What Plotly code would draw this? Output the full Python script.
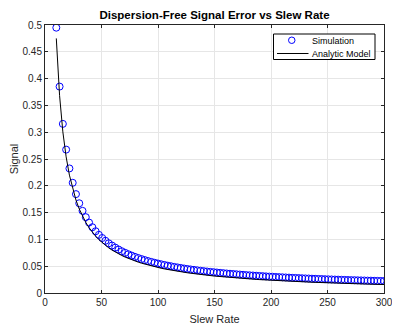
import plotly.graph_objects as go

slew_rate = [10.0, 12.9, 15.8, 18.7, 21.6, 24.5, 27.4, 30.3, 33.2, 36.1, 39.0, 41.9, 44.8, 47.7, 50.6,
             53.5, 56.4, 59.3, 62.2, 65.1, 68.0, 70.9, 73.8, 76.7, 79.6, 82.5, 85.4, 88.3, 91.2, 94.1,
             97.0, 99.9, 102.8, 105.7, 108.6, 111.5, 114.4, 117.3, 120.2, 123.1, 126.0, 128.9, 131.8,
             134.7, 137.6, 140.5, 143.4, 146.3, 149.2, 152.1, 155.0, 157.9, 160.8, 163.7, 166.6, 169.5,
             172.4, 175.3, 178.2, 181.1, 184.0, 186.9, 189.8, 192.7, 195.6, 198.5, 201.4, 204.3, 207.2,
             210.1, 213.0, 215.9, 218.8, 221.7, 224.6, 227.5, 230.4, 233.3, 236.2, 239.1, 242.0, 244.9,
             247.8, 250.7, 253.6, 256.5, 259.4, 262.3, 265.2, 268.1, 271.0, 273.9, 276.8, 279.7, 282.6,
             285.5, 288.4, 291.3, 294.2, 297.1, 300.0]

simulation = [0.4950, 0.3851, 0.3155, 0.2675, 0.2324, 0.2056, 0.1845, 0.1674, 0.1533, 0.1415,
              0.1314, 0.1227, 0.1152, 0.1085, 0.1026, 0.0974, 0.0927, 0.0885, 0.0846, 0.0811,
              0.0779, 0.0750, 0.0723, 0.0698, 0.0674, 0.0653, 0.0633, 0.0614, 0.0596, 0.0580,
              0.0564, 0.0550, 0.0536, 0.0523, 0.0510, 0.0499, 0.0487, 0.0477, 0.0467, 0.0457,
              0.0448, 0.0439, 0.0431, 0.0423, 0.0415, 0.0408, 0.0401, 0.0394, 0.0388, 0.0382,
              0.0376, 0.0370, 0.0364, 0.0359, 0.0354, 0.0349, 0.0344, 0.0339, 0.0334, 0.0330,
              0.0326, 0.0322, 0.0318, 0.0314, 0.0310, 0.0306, 0.0303, 0.0299, 0.0296, 0.0293,
              0.0290, 0.0287, 0.0283, 0.0281, 0.0278, 0.0275, 0.0272, 0.0270, 0.0267, 0.0265,
              0.0262, 0.0260, 0.0257, 0.0255, 0.0253, 0.0251, 0.0249, 0.0246, 0.0244, 0.0242,
              0.0240, 0.0239, 0.0237, 0.0235, 0.0233, 0.0231, 0.0230, 0.0228, 0.0226, 0.0225,
              0.0223]

analytic = [0.4750, 0.3682, 0.3006, 0.2540, 0.2199, 0.1939, 0.1734, 0.1568, 0.1431, 0.1316,
            0.1218, 0.1134, 0.1060, 0.0996, 0.0939, 0.0888, 0.0842, 0.0801, 0.0764, 0.0730,
            0.0699, 0.0670, 0.0644, 0.0619, 0.0597, 0.0576, 0.0556, 0.0538, 0.0521, 0.0505,
            0.0490, 0.0475, 0.0462, 0.0449, 0.0437, 0.0426, 0.0415, 0.0405, 0.0395, 0.0386,
            0.0377, 0.0369, 0.0360, 0.0353, 0.0345, 0.0338, 0.0331, 0.0325, 0.0318, 0.0312,
            0.0306, 0.0301, 0.0295, 0.0290, 0.0285, 0.0280, 0.0276, 0.0271, 0.0267, 0.0262,
            0.0258, 0.0254, 0.0250, 0.0246, 0.0243, 0.0239, 0.0236, 0.0233, 0.0229, 0.0226,
            0.0223, 0.0220, 0.0217, 0.0214, 0.0211, 0.0209, 0.0206, 0.0204, 0.0201, 0.0199,
            0.0196, 0.0194, 0.0192, 0.0189, 0.0187, 0.0185, 0.0183, 0.0181, 0.0179, 0.0177,
            0.0175, 0.0173, 0.0172, 0.0170, 0.0168, 0.0166, 0.0165, 0.0163, 0.0161, 0.0160,
            0.0158]

series_names = ["Simulation", "Analytic Model"]
x_ticks = [0, 50, 100, 150, 200, 250, 300]
y_ticks = [0, 0.05, 0.1, 0.15, 0.2, 0.25, 0.3, 0.35, 0.4, 0.45, 0.5]
y_tick_labels = ["0", "0.05", "0.1", "0.15", "0.2", "0.25", "0.3", "0.35", "0.4", "0.45", "0.5"]

FONT = "Liberation Sans, Arial, sans-serif"
AX = "#262626"
BLUE = "#0000ff"

# page body has an 8px margin, so the figure is sized to fit the 400x328 window
OFF = 8
W, H = 392, 320
ML, MT = 37, 17
PW, PH = 339, 268
MR, MB = W - ML - PW, H - MT - PH


def px(xs):
    return (xs - OFF - ML) / PW


def py(ys):
    return 1 - (ys - OFF - MT) / PH


fig = go.Figure()
fig.add_trace(go.Scatter(
    x=slew_rate, y=simulation, mode="markers", name=series_names[0], showlegend=False,
    marker=dict(symbol="circle-open", size=7, color=BLUE, line=dict(width=1, color=BLUE)),
))
fig.add_trace(go.Scatter(
    x=slew_rate, y=analytic, mode="lines", name=series_names[1], showlegend=False,
    line=dict(color="#000000", width=1),
))

axis_common = dict(
    showline=True, linecolor=AX, linewidth=1, mirror="ticks",
    ticks="inside", ticklen=3, tickcolor=AX, tickwidth=1,
    showgrid=True, gridcolor="#e6e6e6", gridwidth=1, zeroline=False,
    tickfont=dict(family=FONT, size=10, color=AX), automargin=False,
)

# compact legend box (MATLAB style)
shapes = [
    dict(type="rect", xref="paper", yref="paper", x0=px(273.5), x1=px(375), y0=py(59.5), y1=py(34),
         line=dict(color="#000000", width=1), fillcolor="white", layer="above"),
    dict(type="circle", xref="paper", yref="paper", x0=px(288.5), x1=px(295), y0=py(43.5), y1=py(37),
         line=dict(color=BLUE, width=1), fillcolor="rgba(0,0,0,0)", layer="above"),
    dict(type="line", xref="paper", yref="paper", x0=px(277), x1=px(308.5), y0=py(53.5), y1=py(53.5),
         line=dict(color="#000000", width=1), layer="above"),
]
annotations = [
    dict(text=series_names[0], xref="paper", yref="paper", x=px(310), y=py(40.5),
         xanchor="left", yanchor="middle", showarrow=False,
         font=dict(family=FONT, size=9, color="#000000")),
    dict(text=series_names[1], xref="paper", yref="paper", x=px(310), y=py(53.5),
         xanchor="left", yanchor="middle", showarrow=False,
         font=dict(family=FONT, size=9, color="#000000")),
]

fig.update_layout(
    width=W, height=H,
    margin=dict(l=ML, r=MR, t=MT, b=MB),
    paper_bgcolor="white", plot_bgcolor="white",
    font=dict(family=FONT, color=AX),
    title=dict(text="<b>Dispersion-Free Signal Error vs Slew Rate</b>",
               font=dict(family=FONT, size=11.5, color="#000000"),
               x=0.5, xref="paper", xanchor="center", y=1 - 6.5 / H, yanchor="middle"),
    xaxis=dict(range=[0, 300], tickvals=x_ticks, ticktext=[str(v) for v in x_ticks],
               title=dict(text="Slew Rate", font=dict(family=FONT, size=11, color=AX), standoff=8),
               **axis_common),
    yaxis=dict(range=[0, 0.5], tickvals=y_ticks, ticktext=y_tick_labels,
               title=dict(text="Signal", font=dict(family=FONT, size=11, color=AX), standoff=8),
               **axis_common),
    shapes=shapes,
    annotations=annotations,
    showlegend=False,
)

fig.write_html("out.html")
